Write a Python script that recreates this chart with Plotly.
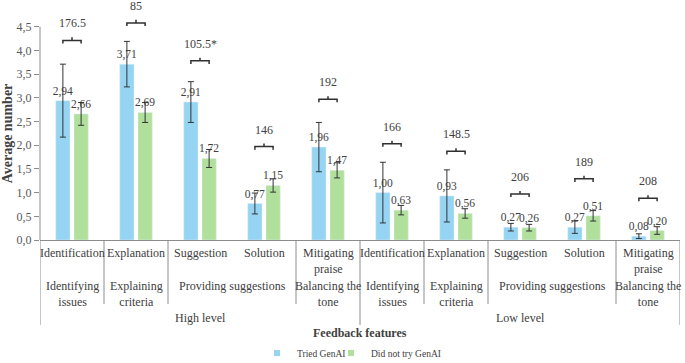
import plotly.graph_objects as go

# ---------------- data ----------------
features = ["Identification", "Explanation", "Suggestion", "Solution", "Mitigating<br>praise",
            "Identification", "Explanation", "Suggestion", "Solution", "Mitigating<br>praise"]
groups = ["Identifying<br>issues", "Explaining<br>criteria", "Providing suggestions", "Providing suggestions",
          "Balancing the<br>tone",
          "Identifying<br>issues", "Explaining<br>criteria", "Providing suggestions", "Providing suggestions",
          "Balancing the<br>tone"]
levels = ["High level"] * 5 + ["Low level"] * 5

tried = [2.94, 3.71, 2.91, 0.77, 1.96, 1.00, 0.93, 0.27, 0.27, 0.08]
tried_err = [0.77, 0.48, 0.43, 0.22, 0.52, 0.64, 0.55, 0.08, 0.13, 0.05]
not_tried = [2.66, 2.69, 1.72, 1.15, 1.47, 0.63, 0.56, 0.26, 0.51, 0.20]
not_tried_err = [0.24, 0.21, 0.19, 0.14, 0.16, 0.10, 0.10, 0.07, 0.11, 0.08]

stat_labels = ["176.5", "85", "105.5*", "146", "192", "166", "148.5", "206", "189", "208"]
bracket_y = [4.21, 4.58, 3.78, 1.97, 2.97, 2.03, 1.87, 0.97, 1.29, 0.88]

y_ticks = [0.0, 0.5, 1.0, 1.5, 2.0, 2.5, 3.0, 3.5, 4.0, 4.5]

series_names = ["Tried GenAI", "Did not try GenAI"]

# ---------------- style ----------------
BLUE = "#95D5F3"
GREEN = "#B0E09C"
TXT = "#404040"
AX = "#8C8C8C"
FONT = "'Liberation Serif', 'Times New Roman', Times, serif"
BARGAP = 0.43
PLOT_H = 237  # px

x = list(range(len(features)))

fig = go.Figure()
fig.add_trace(go.Bar(
    x=x, y=tried, name=series_names[0], marker_color=BLUE, showlegend=False,
    error_y=dict(type="data", array=tried_err, color="#333333", thickness=1, width=3),
    texttemplate="%{y:.2f}", textposition="outside", constraintext="none", cliponaxis=False,
    textfont=dict(family=FONT, size=11.5, color=TXT),
))
fig.add_trace(go.Bar(
    x=x, y=not_tried, name=series_names[1], marker_color=GREEN, showlegend=False,
    error_y=dict(type="data", array=not_tried_err, color="#333333", thickness=1, width=3),
    texttemplate="%{y:.2f}", textposition="outside", constraintext="none", cliponaxis=False,
    textfont=dict(family=FONT, size=11.5, color=TXT),
))

# legend entries (small squares)
fig.add_trace(go.Scatter(x=[None], y=[None], mode="markers", name=series_names[0],
                         marker=dict(symbol="square", size=6, color=BLUE), legend="legend"))
fig.add_trace(go.Scatter(x=[None], y=[None], mode="markers", name=series_names[1],
                         marker=dict(symbol="square", size=6, color=GREEN), legend="legend2"))

# significance brackets
off = (1 - BARGAP) / 4
drop = 0.065
bx, by = [], []
for i, yb in enumerate(bracket_y):
    xl, xr = i - off, i + off
    bx += [xl, xl, xr, xr, None, i, i, None]
    by += [yb - drop, yb, yb, yb - drop, None, yb, yb + drop, None]
fig.add_trace(go.Scatter(x=bx, y=by, mode="lines", line=dict(color="#303030", width=1.5),
                         showlegend=False, hoverinfo="skip", cliponaxis=False))

annotations = []
for i, (yb, lab) in enumerate(zip(bracket_y, stat_labels)):
    annotations.append(dict(x=i, y=yb, xref="x", yref="y", text=lab, showarrow=False,
                            yanchor="middle", yshift=17, font=dict(family=FONT, size=12, color=TXT)))

def px_to_paper(py):
    return -(py) / PLOT_H

# feature labels
for i, f in enumerate(features):
    annotations.append(dict(x=i, y=0, xref="x", yref="paper", text=f, showarrow=False,
                            yanchor="top", yshift=-4, font=dict(family=FONT, size=12, color=TXT)))

# group labels (span consecutive identical groups within a level)
shapes = []
n = len(features)
start = 0
for i in range(1, n + 1):
    if i == n or groups[i] != groups[start] or levels[i] != levels[start]:
        annotations.append(dict(x=(start + i - 1) / 2, y=0, xref="x", yref="paper", text=groups[start],
                                showarrow=False, yanchor="top", yshift=-37,
                                font=dict(family=FONT, size=12, color=TXT)))
        if i < n and levels[i] == levels[start]:
            shapes.append(dict(type="line", xref="x", yref="paper", x0=i - 0.5, x1=i - 0.5,
                               y0=0, y1=px_to_paper(64), line=dict(color=AX, width=1)))
        start = i

# level labels
start = 0
shapes.append(dict(type="line", xref="x", yref="paper", x0=-0.5, x1=-0.5, y0=0, y1=px_to_paper(85),
                   line=dict(color=AX, width=1)))
for i in range(1, n + 1):
    if i == n or levels[i] != levels[start]:
        annotations.append(dict(x=(start + i - 1) / 2, y=0, xref="x", yref="paper", text=levels[start],
                                showarrow=False, yanchor="middle", yshift=-78,
                                font=dict(family=FONT, size=12, color=TXT)))
        shapes.append(dict(type="line", xref="x", yref="paper", x0=i - 0.5, x1=i - 0.5,
                           y0=0, y1=px_to_paper(85), line=dict(color=AX, width=1)))
        start = i

# y axis line only up to last tick
shapes.append(dict(type="line", xref="paper", yref="y", x0=0, x1=0, y0=0, y1=y_ticks[-1],
                   line=dict(color=AX, width=1)))

# axis titles
annotations.append(dict(x=0.5, y=0, xref="paper", yref="paper", text="<b>Feedback features</b>",
                        showarrow=False, yanchor="middle", yshift=-93,
                        font=dict(family=FONT, size=12, color=TXT)))
annotations.append(dict(x=0, y=(y_ticks[0] + y_ticks[-1]) / 2, xref="paper", yref="y",
                        text="<b>Average number</b>", textangle=-90, showarrow=False,
                        xanchor="center", xshift=-33, font=dict(family=FONT, size=14, color=TXT)))

fig.update_layout(
    width=685, height=363,
    margin=dict(l=40, r=5, t=3, b=123, autoexpand=False),
    paper_bgcolor="white", plot_bgcolor="white",
    barmode="group", bargap=BARGAP, bargroupgap=0.22,
    separators=", ",
    font=dict(family=FONT, color=TXT),
    xaxis=dict(range=[-0.5, n - 0.5], showticklabels=False, ticks="", showgrid=False,
               zeroline=False, showline=True, linecolor=AX, linewidth=1),
    yaxis=dict(range=[0, 5.0], tickvals=y_ticks, tickformat=".1f", ticks="outside", ticklen=5,
               tickcolor=AX, showgrid=False, zeroline=False, showline=False,
               tickfont=dict(family=FONT, size=12, color="#595959")),
    legend=dict(orientation="h", x=(257 - 40) / 640, xanchor="left", y=px_to_paper(113),
                yanchor="middle", font=dict(family=FONT, size=9.5, color=TXT),
                itemwidth=30, bgcolor="rgba(0,0,0,0)"),
    legend2=dict(orientation="h", x=(331 - 40) / 640, xanchor="left", y=px_to_paper(113),
                 yanchor="middle", font=dict(family=FONT, size=9.5, color=TXT),
                 itemwidth=30, bgcolor="rgba(0,0,0,0)"),
    annotations=annotations,
    shapes=shapes,
)

fig.write_html("out.html", config={"displayModeBar": False},
               post_script="document.body.style.margin='0';document.body.style.overflow='hidden';")
